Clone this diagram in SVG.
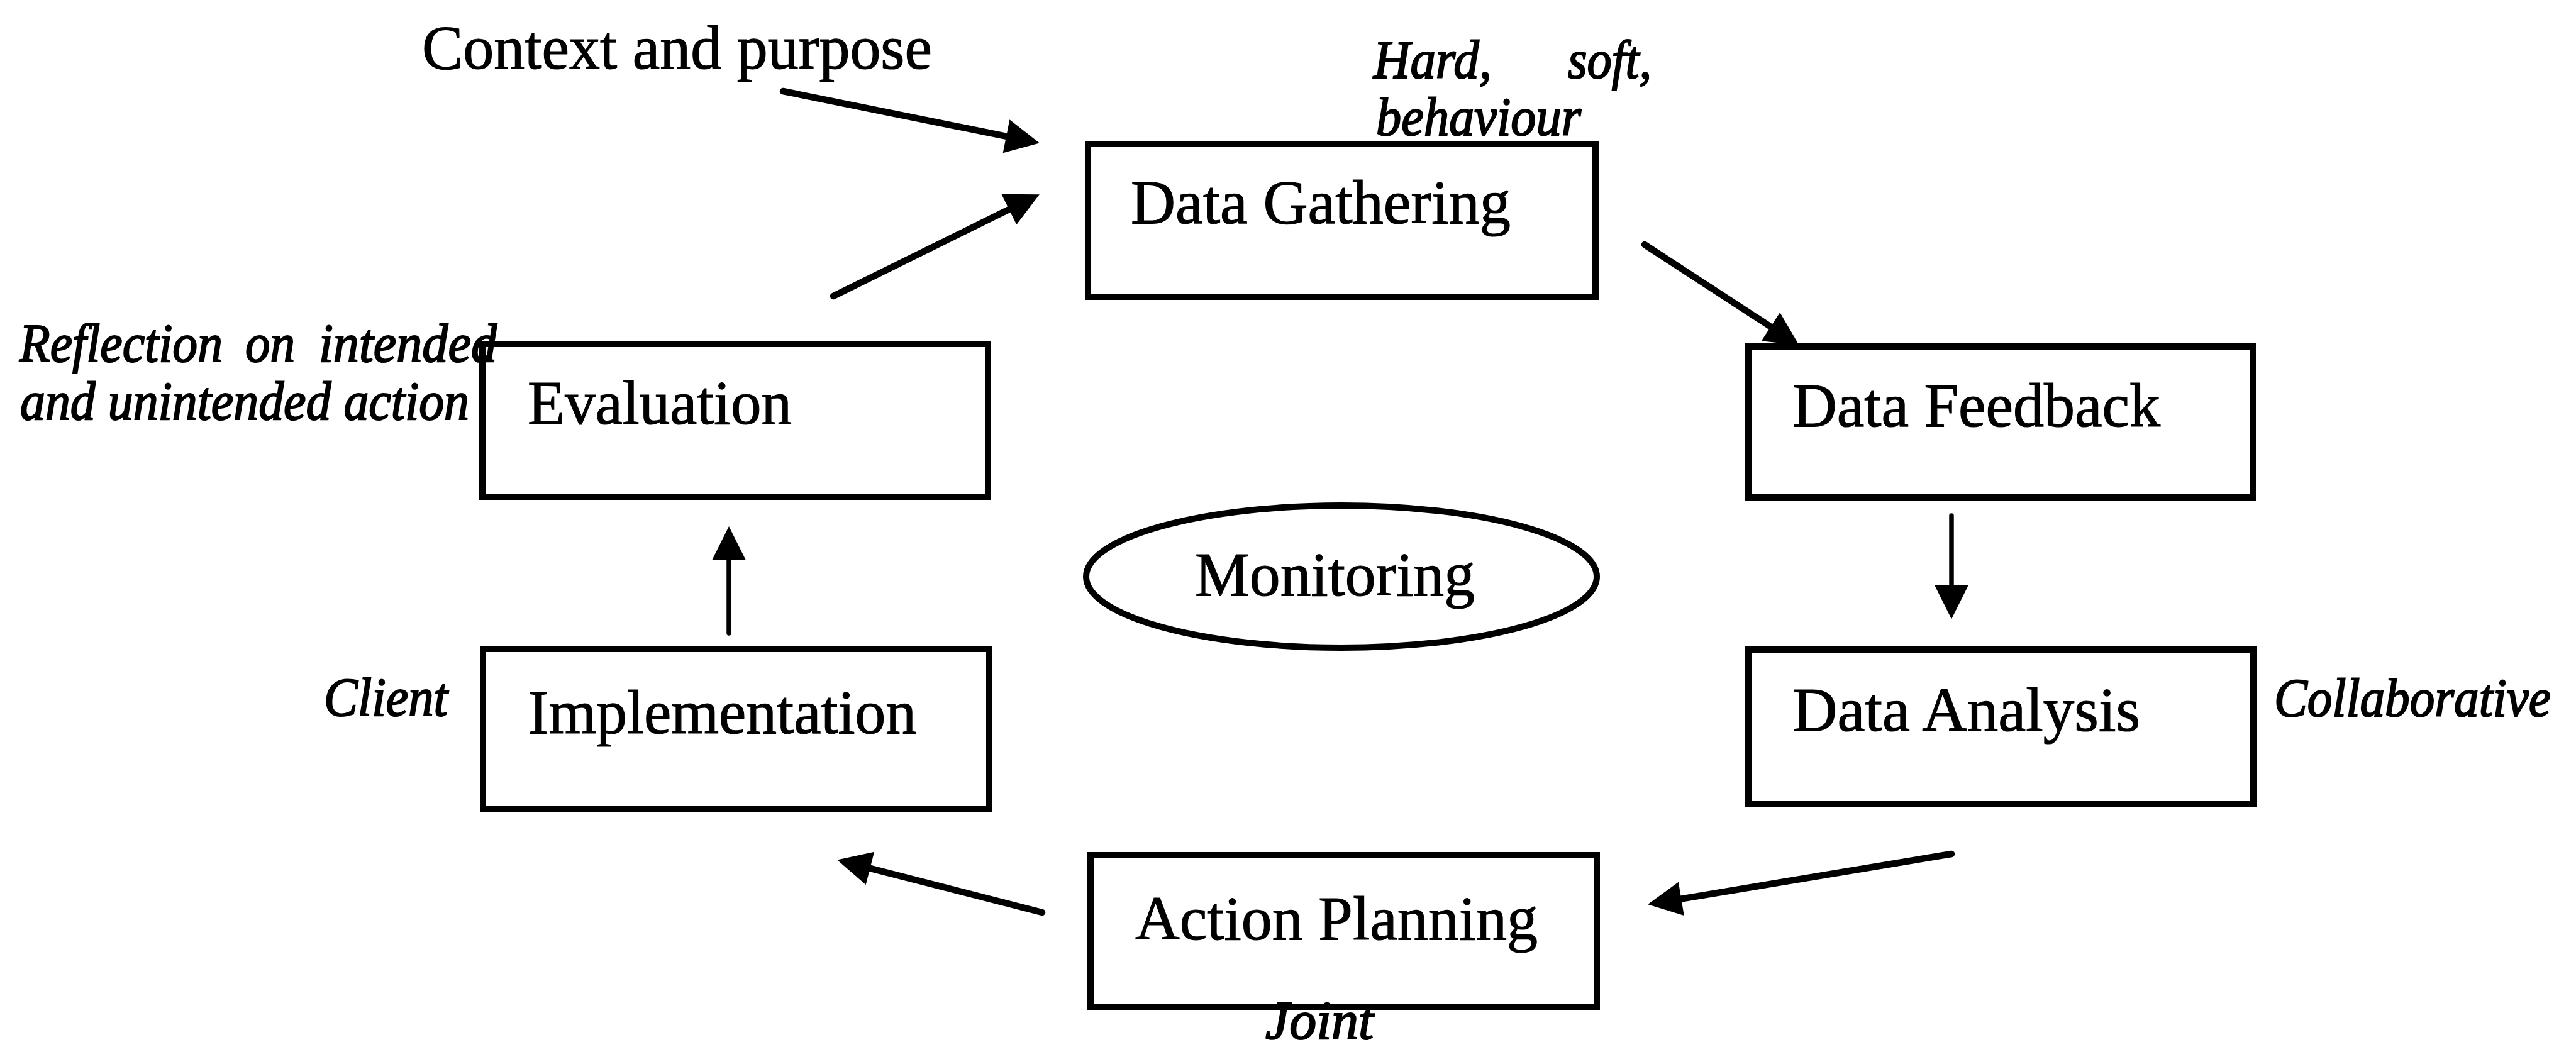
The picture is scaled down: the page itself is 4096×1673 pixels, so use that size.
<svg xmlns="http://www.w3.org/2000/svg" width="4096" height="1673" viewBox="0 0 4096 1673">
  <style>
    .box { fill: #ffffff; stroke: #000000; stroke-width: 10; }
    .oval { fill: #ffffff; stroke: #000000; stroke-width: 10; }
    .title { font-family: "Liberation Serif", "Times New Roman", serif; font-size: 100px; fill: #000000; stroke: #000000; stroke-width: 1.2; }
    .note { font-family: "Liberation Serif", "Times New Roman", serif; font-style: italic; font-size: 87px; fill: #000000; stroke: #000000; stroke-width: 2.2; }
    .flow { fill: none; stroke: #000000; stroke-width: 10.5; stroke-linecap: round; marker-end: url(#head); }
    .flow.thin { stroke-width: 7.5; }
  </style>
  <defs>
    <marker id="head" markerUnits="userSpaceOnUse" markerWidth="54" markerHeight="54" refX="22" refY="27" orient="auto" overflow="visible">
      <path d="M0,0 L54,27 L0,54 z" fill="#000000"/>
    </marker>
  </defs>
  <rect width="4096" height="1673" fill="#ffffff"/>

  <!-- connectors -->
  <g id="connectors">
    <path class="flow" d="M1245,145 L1621.6,221.1"/>
    <path class="flow" d="M1325,471 L1624.1,323.3"/>
    <path class="flow" d="M2615,389 L2833.9,531.6"/>
    <path class="flow thin" d="M3103,820 L3103,952.5"/>
    <path class="flow" d="M3103,1358 L2651.6,1433.1"/>
    <path class="flow" d="M1657,1451 L1362.1,1375.4"/>
    <path class="flow thin" d="M1159,1007 L1159,869"/>
  </g>

  <!-- cycle stages -->
  <g id="data-gathering">
    <rect class="box" x="1730" y="229" width="807" height="243"/>
    <text class="title" x="1798" y="355" textLength="604" lengthAdjust="spacingAndGlyphs">Data Gathering</text>
  </g>
  <g id="data-feedback">
    <rect class="box" x="2780" y="551" width="802" height="240"/>
    <text class="title" x="2850" y="678" textLength="585" lengthAdjust="spacingAndGlyphs">Data Feedback</text>
  </g>
  <g id="data-analysis">
    <rect class="box" x="2780" y="1033" width="803" height="246"/>
    <text class="title" x="2850" y="1162" textLength="553" lengthAdjust="spacingAndGlyphs">Data Analysis</text>
  </g>
  <g id="action-planning">
    <rect class="box" x="1734" y="1360" width="805" height="241"/>
    <text class="title" x="1805" y="1494" textLength="640" lengthAdjust="spacingAndGlyphs">Action Planning</text>
  </g>
  <g id="implementation">
    <rect class="box" x="768" y="1032" width="805" height="254"/>
    <text class="title" x="840" y="1166" textLength="617" lengthAdjust="spacingAndGlyphs">Implementation</text>
  </g>
  <g id="evaluation">
    <rect class="box" x="767" y="547" width="804" height="243"/>
    <text class="title" x="839" y="674" textLength="420" lengthAdjust="spacingAndGlyphs">Evaluation</text>
  </g>
  <g id="monitoring">
    <ellipse class="oval" cx="2133" cy="917" rx="406" ry="113"/>
    <text class="title" x="1900" y="947" textLength="445" lengthAdjust="spacingAndGlyphs">Monitoring</text>
  </g>

  <!-- side notes -->
  <g id="context-purpose">
    <text class="title" x="671" y="109" textLength="811" lengthAdjust="spacingAndGlyphs">Context and purpose</text>
  </g>
  <g id="note-data-gathering">
    <text class="note" x="2184" y="124" textLength="188" lengthAdjust="spacingAndGlyphs">Hard,</text>
    <text class="note" x="2493" y="124" textLength="133" lengthAdjust="spacingAndGlyphs">soft,</text>
    <text class="note" x="2188" y="215" textLength="326" lengthAdjust="spacingAndGlyphs">behaviour</text>
  </g>
  <g id="note-evaluation">
    <text class="note" x="31" y="575" textLength="323" lengthAdjust="spacingAndGlyphs">Reflection</text>
    <text class="note" x="390" y="575" textLength="79" lengthAdjust="spacingAndGlyphs">on</text>
    <text class="note" x="507" y="575" textLength="283" lengthAdjust="spacingAndGlyphs">intended</text>
    <text class="note" x="32" y="667" textLength="714" lengthAdjust="spacingAndGlyphs">and unintended action</text>
  </g>
  <g id="note-implementation">
    <text class="note" x="515" y="1138" textLength="197" lengthAdjust="spacingAndGlyphs">Client</text>
  </g>
  <g id="note-data-analysis">
    <text class="note" x="3616" y="1139" textLength="440" lengthAdjust="spacingAndGlyphs">Collaborative</text>
  </g>
  <g id="note-action-planning">
    <text class="note" x="2012" y="1652" textLength="172" lengthAdjust="spacingAndGlyphs">Joint</text>
  </g>
</svg>
